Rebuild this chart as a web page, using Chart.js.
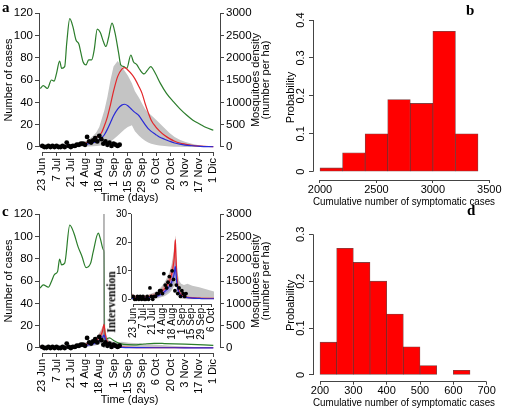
<!DOCTYPE html>
<html><head><meta charset="utf-8"><title>Chart</title>
<script src="https://cdn.jsdelivr.net/npm/chart.js@4/dist/chart.umd.min.js"></script>
<style>
html,body{margin:0;padding:0;background:#fff;}
#wrap{position:relative;width:510px;height:412px;overflow:hidden;font-family:"Liberation Sans",Arial,sans-serif;color:#000;}
#wrap canvas{position:absolute;}
.pl{position:absolute;font:bold 15px/1 "Liberation Serif","DejaVu Serif",serif;}
.rot{position:absolute;white-space:nowrap;transform:translate(-50%,-50%) rotate(-90deg);font-size:11px;line-height:1;}
.int{font:bold 11.5px/1 "Liberation Serif","DejaVu Serif",serif;}
</style></head>
<body><div id="wrap">
<canvas id="cA" width="290" height="210" style="left:0px;top:0px"></canvas>
<canvas id="cB" width="230" height="210" style="left:280px;top:0px"></canvas>
<canvas id="cC" width="290" height="212" style="left:0px;top:200px"></canvas>
<canvas id="cI" width="135" height="150" style="left:90px;top:200px"></canvas>
<canvas id="cD" width="230" height="207" style="left:280px;top:205px"></canvas>
<div class="pl" style="left:2px;top:0px">a</div>
<div class="pl" style="left:466px;top:3px">b</div>
<div class="pl" style="left:2px;top:204px">c</div>
<div class="pl" style="left:467px;top:203px">d</div>
<div class="rot" style="left:255px;top:80px">Mosquitoes density</div>
<div class="rot" style="left:265px;top:80px">(number per ha)</div>
<div class="rot" style="left:255px;top:281px">Mosquitoes density</div>
<div class="rot" style="left:265px;top:281px">(number per ha)</div>
<div class="rot int" style="left:112px;top:302px">Intervention</div>
</div>
<script>
// ---------------- DATA ----------------
const dateTickDays = [0, 14, 28, 42, 56, 70, 84, 98, 112, 126, 140, 154, 168];
const dateTickLabels = ['23 Jun', '7 Jul', '21 Jul', '4 Aug', '18 Aug', '1 Sep', '15 Sep', '29 Sep', '6 Oct', '20 Oct', '3 Nov', '17 Nov', '1 Dic'];
const insetTickDays = [0, 14, 28, 42, 56, 70, 84, 98, 112];
const insetTickLabels = ['23 Jun', '7 Jul', '21 Jul', '4 Aug', '18 Aug', '1 Sep', '15 Sep', '29 Sep', '6 Oct'];
const caseTicks = [0, 10, 20, 30, 40, 50, 60, 70, 80, 90, 100, 110, 120];
const densityTicks = [0, 250, 500, 750, 1000, 1250, 1500, 1750, 2000, 2250, 2500, 2750, 3000];
const insetCaseTicks = [0, 10, 20, 30];

// observed cases (black points)
const obsDays = [0,2,4,6,8,10,12,14,16,18,20,22,24,26,28,30,32,34,36,38,40,42,44,46,48,50,52,54,56,58,60,62,64,66,68,70,72,74,76];
const obsCases = [1,0,0,1,0,1,0,1,0,0,1,0,4,1,0,1,1,2,2,3,3,2,9,5,4,6,8,5,10,7,3,5,2,4,1,3,2,1,2];

// panel a: mosquito density
const aGreenDays = [-2,1,5,9,11.5,14,17,19,22,24,27,30,33,36,38,40,43,45.5,48.5,51,54,57,60,62.5,65,68.5,71.5,75,77,80,83,87,89.5,93,96,100,103,106.5,111,116,122,129,135,142,148,155,161,168];
const aGreenDensity = [1310,1375,1310,1500,1475,1650,1925,1760,1800,2325,2875,2700,2400,2300,2100,1910,1840,1950,1950,2175,2640,2565,2360,2250,2440,2775,2550,2100,1840,1800,1760,2060,1910,1840,1725,1635,1710,1800,1650,1425,1200,1010,860,710,600,510,435,375];
// panel a: simulated cases
const aDays = [-2,0,10,20,30,40,45,50,53,56,58,61,64,67,70,74,78,81,84,88,91,95,98,101,104,107,111,115,120,125,130,135,140,147,155,168];
const aRed  = [1.0,0.6,0.6,0.8,1.3,2.8,4.2,6.5,8.5,10.5,12.5,19,27,38,50,63,69.5,71,69,65,61,54,48,39,31,24,18.5,14.5,10.5,7.5,5.2,3.6,2.6,1.5,0.8,0.3];
const aBlue = [0.4,0.3,0.4,0.6,1,2,2.8,3.8,4.8,6.3,8,11,16,22,28,34,37.5,38.3,37,33.5,31,28,24,20,16.5,14,11.5,9,7,5.2,3.6,2.5,1.7,1.1,0.6,0.2];
const aHi   = [2,1.5,1.3,1.6,2.5,4.5,6.5,10,13,18,24,33,45,60,72,77,72,68,64,57,50,44,39,34,31,28.5,25,21.5,17,12.5,9,6.5,4.7,2.8,1.4,0.5];
const aLo   = [0,0,0,0,0,0.2,0.4,0.6,0.8,1.2,1.6,2.5,3.5,5,7,10,13.5,16,18,19.5,14,10,7.5,5.5,4,3,2,1.3,0.8,0.5,0.3,0.2,0.1,0,0,0];

// panel c: with intervention
const interventionDay = 60.6;
const cGreenDays = [-2.3,1,6,9,12,15,17,19,22,27,31,35,39,43,47.5,50,55,57,60,60.6,61.3,63,66,70,75,80,90,100,110,120,140,168];
const cGreenDensity = [1340,1415,1360,1490,1650,1710,1990,1860,1900,2750,2575,2275,2050,1800,1900,2150,2570,2450,2200,2150,120,190,225,170,110,80,70,90,105,100,85,60];
const cDays   = [-2,0,10,20,30,36,40,44,48,52,55,57,59,60.6,61.5,62.5,64,66,69,73,78,85,95,110,130,150,168];
const cRed    = [1.5,0.8,0.6,0.7,1.1,1.7,2.5,3.4,4.6,6.3,8.5,11,14.5,21,15,9.5,5,2.8,1.6,1.0,0.7,0.5,0.4,0.3,0.3,0.2,0.2];
const cRedHi  = [2.2,1.5,1.2,1.4,2,2.7,3.6,4.8,6.3,8.5,11,14,17.5,22.5,17,11.5,6.5,3.8,2.3,1.5,1.1,0.8,0.6,0.5,0.4,0.3,0.3];
const cRedLo  = [0.5,0.3,0.3,0.3,0.6,1,1.5,2.1,2.9,4,5.5,7.5,10,15.5,11,6.5,3.2,1.6,0.9,0.5,0.4,0.3,0.2,0.2,0.1,0.1,0.1];
const cBlue   = [0.3,0.3,0.4,0.5,0.9,1.3,1.8,2.5,3.3,4.5,5.8,7.2,9,11.5,9.5,6.5,3.8,2.2,1.3,0.8,0.6,0.4,0.3,0.2,0.2,0.1,0.1];
const cBlueHi = [0.6,0.5,0.6,0.8,1.4,2,2.6,3.5,4.6,6,7.6,9.2,11.5,14,12,8.5,5,3,1.9,1.2,0.9,0.6,0.4,0.3,0.3,0.2,0.2];
const cBlueLo = [0.1,0.1,0.2,0.2,0.5,0.8,1.1,1.6,2.2,3,4,5,6.5,8.5,7,4.5,2.5,1.4,0.8,0.5,0.4,0.2,0.2,0.1,0.1,0.05,0.05];
const cHi     = [2.2,1.5,1.3,1.5,2.4,3.2,4.3,5.6,7.3,9.5,12,15,18.5,22.5,19,14,9,6.5,5.5,5,5.5,4.8,4.2,3.2,1.8,0.9,0.5];
const cLo     = [0,0,0,0,0.2,0.4,0.7,1,1.5,2.2,3,3.8,4.8,6,5,3,1.5,0.6,0.3,0.1,0,0,0,0,0,0,0];

// panel b histogram
const bBinStarts = [2000, 2200, 2400, 2600, 2800, 3000, 3200];
const bBinWidth = 200;
const bProb = [0.01, 0.05, 0.10, 0.19, 0.18, 0.37, 0.10];
const bXTicks = [2000, 2500, 3000, 3500];
const bYTicks = [0, 0.1, 0.2, 0.3, 0.4];
// panel d histogram
const dBinStarts = [200, 250, 300, 350, 400, 450, 500, 550, 600];
const dBinWidth = 50;
const dProb = [0.07, 0.27, 0.24, 0.20, 0.13, 0.06, 0.02, 0, 0.01];
const dXTicks = [200, 300, 400, 500, 600, 700];
const dYTicks = [0, 0.1, 0.2, 0.3];

// ---------------- STYLE / HELPERS ----------------
Chart.defaults.font.family = '"Liberation Sans", Arial, sans-serif';
Chart.defaults.font.size = 11;
Chart.defaults.color = '#000';
const TICKC = '#444';
const RED = '#e3262a', BLUE = '#2a2ad6', GREEN = '#2b7d2b', GREY = '#c4c4c4';

const xy = (xs, ys) => xs.map((x, i) => ({x: x, y: ys[i]}));
const fix = (w, h) => s => {
  if (w !== null) s.width = w;
  if (h !== null) s.height = h;
  s.paddingLeft = 0; s.paddingRight = 0; s.paddingTop = 0; s.paddingBottom = 0;
};
const setTicks = vals => s => { s.ticks = vals.map(v => ({value: v})); };
const labelFrom = (vals, labels) => v => { const i = vals.indexOf(v); return i >= 0 ? labels[i] : ''; };
const plain = v => String(v);

const axisLines = {
  id: 'axisLines',
  afterDraw(chart) {
    const ctx = chart.ctx;
    ctx.save();
    ctx.strokeStyle = TICKC; ctx.lineWidth = 1;
    for (const s of Object.values(chart.scales)) {
      if (s.options.display === false || !s.ticks.length) continue;
      const p0 = s.getPixelForValue(s.ticks[0].value);
      const p1 = s.getPixelForValue(s.ticks[s.ticks.length - 1].value);
      ctx.beginPath();
      if (s.isHorizontal()) {
        const y = Math.floor(s.top) + 0.5;
        ctx.moveTo(p0, y); ctx.lineTo(p1, y);
      } else {
        const x = (s.position === 'left' ? Math.floor(s.right) : Math.floor(s.left)) + 0.5;
        ctx.moveTo(x, p0); ctx.lineTo(x, p1);
      }
      ctx.stroke();
    }
    ctx.restore();
  }
};

const common = {
  responsive: false, animation: false, devicePixelRatio: 1, events: [],
  plugins: {legend: {display: false}, tooltip: {enabled: false}}
};
const gridT = tl => ({drawOnChartArea: false, drawTicks: true, tickLength: tl, color: TICKC, tickColor: TICKC, offset: false});

function lineDS(xs, ys, color, width, axis) {
  return {type: 'line', data: xy(xs, ys), borderColor: color, borderWidth: width, pointRadius: 0,
          fill: false, cubicInterpolationMode: 'monotone', yAxisID: axis};
}
function bandDS(xs, ys, color, fill) {
  return {type: 'line', data: xy(xs, ys), borderColor: 'rgba(0,0,0,0)', borderWidth: 0, pointRadius: 0,
          backgroundColor: color, fill: fill, tension: 0, yAxisID: 'y'};
}
function pointsDS(r) {
  return {type: 'line', data: xy(obsDays, obsCases), showLine: false, pointRadius: r,
          pointBackgroundColor: '#000', pointBorderWidth: 0, borderColor: '#000', yAxisID: 'y'};
}

function timeScales(xHeight) {
  return {
    x: {type: 'linear', offset: false, min: -3.24, max: 174.58, afterBuildTicks: setTicks(dateTickDays),
        ticks: {callback: labelFrom(dateTickDays, dateTickLabels), minRotation: 90, maxRotation: 90, autoSkip: false, padding: 2},
        grid: gridT(4), border: {display: false},
        title: {display: true, text: 'Time (days)', padding: {top: 0, bottom: 5.4}},
        afterFit: fix(null, xHeight)},
    y: {type: 'linear', position: 'left', min: -4.48, max: 124.48, afterBuildTicks: setTicks(caseTicks),
        ticks: {padding: 2, callback: plain, font: {size: 11.5}}, grid: gridT(4), border: {display: false},
        title: {display: true, text: 'Number of cases', padding: {top: 2, bottom: 0}},
        afterFit: fix(39, null)},
    y2: {type: 'linear', position: 'right', min: -112, max: 3112, afterBuildTicks: setTicks(densityTicks),
        ticks: {padding: 2, callback: plain, font: {size: 11.5}}, grid: gridT(4), border: {display: false},
        afterFit: fix(70, null)}
  };
}

// ---------------- PANEL A ----------------
new Chart(document.getElementById('cA'), {
  type: 'line',
  data: {datasets: [
    pointsDS(2.4),
    lineDS(aDays, aBlue, BLUE, 1.2, 'y'),
    lineDS(aDays, aRed, RED, 1.2, 'y'),
    lineDS(aGreenDays, aGreenDensity, GREEN, 1.2, 'y2'),
    bandDS(aDays, aHi, GREY, '+1'),
    bandDS(aDays, aLo, GREY, false)
  ]},
  options: Object.assign({}, common, {
    layout: {padding: {top: 8, left: 0, right: 0, bottom: 0}},
    scales: timeScales(58)
  }),
  plugins: [axisLines]
});

// ---------------- PANEL C ----------------
new Chart(document.getElementById('cC'), {
  type: 'line',
  data: {datasets: [
    pointsDS(2.4),
    lineDS(cDays, cBlue, BLUE, 1.2, 'y'),
    lineDS(cDays, cRed, RED, 1.2, 'y'),
    {type: 'line', data: xy([interventionDay, interventionDay], [0, 120]), borderColor: '#8a8a8a', borderWidth: 1.2, pointRadius: 0, fill: false, yAxisID: 'y'},
    lineDS(cGreenDays, cGreenDensity, GREEN, 1.2, 'y2'),
    bandDS(cDays, cBlueHi, 'rgba(90,90,255,0.35)', '+1'),
    bandDS(cDays, cBlueLo, 'rgba(0,0,0,0)', false),
    bandDS(cDays, cRedHi, 'rgba(255,70,70,0.35)', '+1'),
    bandDS(cDays, cRedLo, 'rgba(0,0,0,0)', false),
    bandDS(cDays, cHi, GREY, '+1'),
    bandDS(cDays, cLo, GREY, false)
  ]},
  options: Object.assign({}, common, {
    layout: {padding: {top: 9, left: 0, right: 0, bottom: 0}},
    scales: timeScales(59)
  }),
  plugins: [axisLines]
});

// ---------------- INSET ----------------
new Chart(document.getElementById('cI'), {
  type: 'line',
  data: {datasets: [
    pointsDS(1.9),
    lineDS(cDays, cBlue, BLUE, 1.2, 'y'),
    lineDS(cDays, cRed, RED, 1.2, 'y'),
    bandDS(cDays, cBlueHi, 'rgba(90,90,255,0.35)', '+1'),
    bandDS(cDays, cBlueLo, 'rgba(0,0,0,0)', false),
    bandDS(cDays, cRedHi, 'rgba(255,70,70,0.35)', '+1'),
    bandDS(cDays, cRedLo, 'rgba(0,0,0,0)', false),
    bandDS(cDays, cHi, GREY, '+1'),
    bandDS(cDays, cLo, GREY, false)
  ]},
  options: Object.assign({}, common, {
    layout: {padding: {top: 10, left: 0, right: 11, bottom: 0}},
    scales: {
      x: {type: 'linear', offset: false, min: -3.3, max: 116.3, afterBuildTicks: setTicks(insetTickDays),
          ticks: {callback: labelFrom(insetTickDays, insetTickLabels), minRotation: 90, maxRotation: 90, autoSkip: false, padding: 1, font: {size: 10}},
          grid: gridT(3), border: {display: false}, afterFit: fix(null, 46)},
      y: {type: 'linear', position: 'left', min: -1.65, max: 31.4, afterBuildTicks: setTicks(insetCaseTicks),
          ticks: {padding: 1, font: {size: 10}, callback: plain}, grid: gridT(3), border: {display: false}, afterFit: fix(41, null)}
    }
  }),
  plugins: [axisLines]
});

// ---------------- HISTOGRAMS ----------------
function histChart(id, starts, width, probs, xmin, xmax, xticks, ymin, ymax, yticks, pad, xH, titleBottom) {
  return new Chart(document.getElementById(id), {
    type: 'bar',
    data: {datasets: [{
      data: starts.map((s, i) => ({x: s + width / 2, y: probs[i]})),
      backgroundColor: '#ff0000', borderColor: 'rgba(90,0,0,0.75)', borderWidth: 0.8,
      borderSkipped: false, barPercentage: 1, categoryPercentage: 1, grouped: false
    }]},
    options: Object.assign({}, common, {
      layout: {padding: pad},
      scales: {
        x: {type: 'linear', offset: false, min: xmin, max: xmax, afterBuildTicks: setTicks(xticks),
            ticks: {minRotation: 0, maxRotation: 0, autoSkip: false, padding: 0, callback: plain},
            grid: gridT(3), border: {display: false},
            title: {display: true, text: 'Cumulative number of symptomatic cases', padding: {top: 0, bottom: titleBottom}},
            afterFit: fix(null, xH)},
        y: {type: 'linear', position: 'left', min: ymin, max: ymax, afterBuildTicks: setTicks(yticks),
            ticks: {minRotation: 90, maxRotation: 90, crossAlign: 'center', padding: 0, callback: plain},
            grid: gridT(4), border: {display: false},
            title: {display: true, text: 'Probability', padding: {top: 4, bottom: 0}},
            afterFit: fix(33, null)}
      }
    }),
    plugins: [axisLines]
  });
}
histChart('cB', bBinStarts, bBinWidth, bProb, 1938, 3550.5, bXTicks, -0.02189, 0.4132, bYTicks,
          {top: 15, left: 0, right: 15, bottom: 0}, 30, 1.4);
histChart('cD', dBinStarts, dBinWidth, dProb, 179, 725, dXTicks, -0.01429, 0.3113, dYTicks,
          {top: 24, left: 0, right: 15, bottom: 0}, 30.3, 2.7);
</script>
</body></html>
